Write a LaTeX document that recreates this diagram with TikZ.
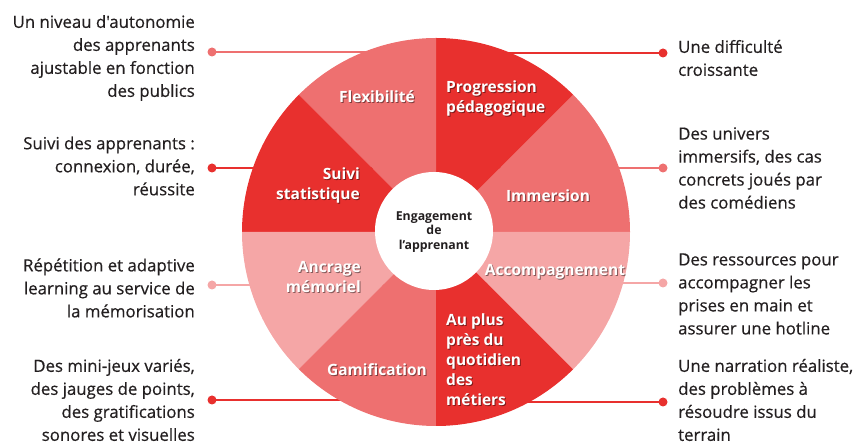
\documentclass[tikz,border=0pt]{standalone}
\usepackage{fontspec}
\setmainfont{Open Sans}
\newfontfamily\semib{Open Sans}[FakeBold=0.5]
\definecolor{rStrong}{HTML}{E8302E}
\definecolor{rMed}{HTML}{EE7070}
\definecolor{rLight}{HTML}{F5A6A6}
\definecolor{txtc}{HTML}{231F20}
\tikzset{
  conn/.style={line width=2.4pt},
  dotn/.style={circle, inner sep=0pt, minimum size=9pt},
  sidetext/.style={font=\semib\fontsize{16.8}{23}\selectfont, text=txtc, inner sep=0pt},
  seglab/.style={font=\bfseries\fontsize{15.5}{20}\selectfont, text=white, inner sep=0pt},
  segshadow/.style={font=\bfseries\fontsize{15.5}{20}\selectfont, text=black, opacity=0.45, inner sep=0pt},
}
\newcommand\seglabel[5]{%
  \node[segshadow, #3, align=#4, xshift=1pt, yshift=-1pt] at (#2) {#5};
  \node[seglab, #3, align=#4] (#1) at (#2) {#5};
}
\begin{document}
\begin{tikzpicture}[x=1pt,y=1pt]
\useasboundingbox (0,0) rectangle (859,446);
\coordinate (O) at (436,214);
% connectors (drawn beneath the wheel)
\node[dotn, fill=rMed] (dl1) at (212,394) {};
\node[dotn, fill=rStrong] (dl2) at (212,278) {};
\node[dotn, fill=rLight] (dl3) at (212,161) {};
\node[dotn, fill=rStrong] (dl4) at (212,46) {};
\node[dotn, fill=rStrong] (dr1) at (663,393) {};
\node[dotn, fill=rMed] (dr2) at (663,278) {};
\node[dotn, fill=rLight] (dr3) at (663,163) {};
\node[dotn, fill=rStrong] (dr4) at (663,44) {};
\coordinate (el1) at (400,394);
\coordinate (el2) at (400,278);
\coordinate (el3) at (400,161);
\coordinate (el4) at (400,46);
\coordinate (er1) at (470,393);
\coordinate (er2) at (470,278);
\coordinate (er3) at (470,163);
\coordinate (er4) at (470,44);
\draw[conn, rMed] (dl1.center) -- (el1);
\draw[conn, rStrong] (dl2.center) -- (el2);
\draw[conn, rLight] (dl3.center) -- (el3);
\draw[conn, rStrong] (dl4.center) -- (el4);
\draw[conn, rStrong] (dr1.center) -- (er1);
\draw[conn, rMed] (dr2.center) -- (er2);
\draw[conn, rLight] (dr3.center) -- (er3);
\draw[conn, rStrong] (dr4.center) -- (er4);
% wheel sectors
\fill[rMed]    (O) -- ++(0:194)   arc[start angle=0,   end angle=45,  radius=194] -- cycle;
\fill[rStrong] (O) -- ++(45:194)  arc[start angle=45,  end angle=90,  radius=194] -- cycle;
\fill[rMed]    (O) -- ++(90:194)  arc[start angle=90,  end angle=135, radius=194] -- cycle;
\fill[rStrong] (O) -- ++(135:194) arc[start angle=135, end angle=180, radius=194] -- cycle;
\fill[rLight]  (O) -- ++(180:194) arc[start angle=180, end angle=225, radius=194] -- cycle;
\fill[rMed]    (O) -- ++(225:194) arc[start angle=225, end angle=270, radius=194] -- cycle;
\fill[rStrong] (O) -- ++(270:194) arc[start angle=270, end angle=315, radius=194] -- cycle;
\fill[rLight]  (O) -- ++(315:194) arc[start angle=315, end angle=360, radius=194] -- cycle;
% centre
\node[circle, fill=white, minimum size=118pt, inner sep=0pt] (hub) at (434,215) {};
\node[font=\bfseries\fontsize{12.3}{14.5}\selectfont, text=txtc, align=center, inner sep=0pt] (hubtext) at (434,214) {Engagement\\de\\l'apprenant};
% sector labels
\seglabel{flex}{377,349}{anchor=center}{center}{Flexibilit\'e}
\seglabel{prog}{446,348}{anchor=west}{left}{Progression\\p\'edagogique}
\seglabel{suivi}{360,261}{anchor=east}{right}{Suivi\\statistique}
\seglabel{imm}{548,250}{anchor=center}{center}{Immersion}
\seglabel{ancr}{361,169}{anchor=east}{right}{Ancrage\\m\'emoriel}
\seglabel{acc}{555,174}{anchor=center}{center}{Accompagnement}
\seglabel{quot}{446,86}{anchor=west}{left}{Au plus\\pr\`es du\\quotidien\\des\\m\'etiers}
\seglabel{gami}{377,76}{anchor=center}{center}{Gamification}
% side texts
\node[sidetext, anchor=east, align=right] (tl1) at (195,388) {Un niveau d'autonomie\\des apprenants\\ajustable en fonction\\des publics};
\node[sidetext, anchor=east, align=right] (tl2) at (195,280) {Suivi des apprenants :\\connexion, dur\'ee,\\r\'eussite};
\node[sidetext, anchor=east, align=right] (tl3) at (195,158) {R\'ep\'etition et adaptive\\learning au service de\\la m\'emorisation};
\node[sidetext, anchor=east, align=right] (tl4) at (195,46) {Des mini-jeux vari\'es,\\des jauges de points,\\des gratifications\\sonores et visuelles};
\node[sidetext, anchor=west, align=left] (tr1) at (678,388) {Une difficult\'e\\croissante};
\node[sidetext, anchor=west, align=left] (tr2) at (678,278) {Des univers\\immersifs, des cas\\concrets jou\'es par\\des com\'ediens};
\node[sidetext, anchor=west, align=left] (tr3) at (678,152) {Des ressources pour\\accompagner les\\prises en main et\\assurer une hotline};
\node[sidetext, anchor=west, align=left] (tr4) at (678,46) {Une narration r\'ealiste,\\des probl\`emes \`a\\r\'esoudre issus du\\terrain};
\end{tikzpicture}
\end{document}
